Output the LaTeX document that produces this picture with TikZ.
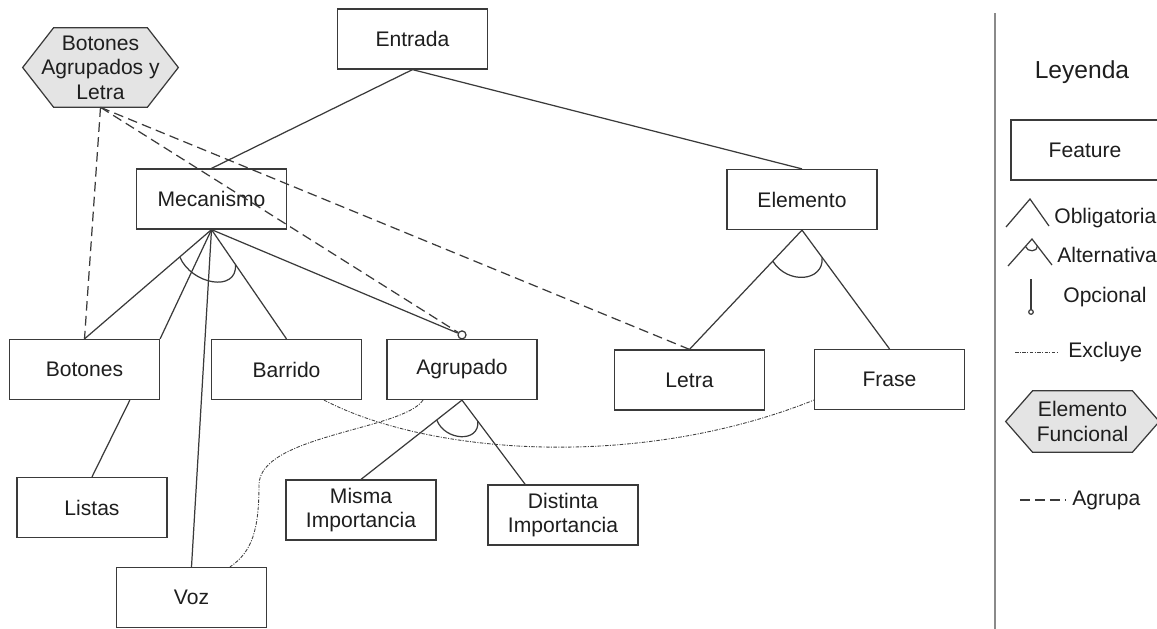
\documentclass[tikz,border=0pt]{standalone}
\usepackage{fontspec}
\setmainfont{Liberation Sans}
\usepackage{tikz}
\usetikzlibrary{shapes,calc,backgrounds}

\definecolor{LineGray}{HTML}{3A3A3A}
\definecolor{TextGray}{HTML}{1E1E1E}
\definecolor{HexFill}{HTML}{E4E4E4}
\definecolor{SepGray}{HTML}{8A8A8A}

\begin{document}
\begin{tikzpicture}[x=0.02cm, y=-0.02cm]
		\tikzstyle{Feature}	= [rectangle, draw=LineGray, line width=0.7pt, fill=white, minimum width=3cm, minimum height=1.2cm, align=center, text=TextGray, font=\fontsize{12}{14}\selectfont]
		\tikzstyle{Funcional}	= [rectangle, inner sep=0pt, align=center, text=TextGray, font=\fontsize{12}{14}\selectfont]
		\tikzstyle{Hexagono}	= [draw=LineGray, line width=0.7pt, fill=HexFill]
		\tikzstyle{Opcional}	= [circle, draw=LineGray, line width=0.7pt, fill=white, minimum size=0.16cm, inner sep=0pt]
		\tikzstyle{Rel}		= [line width=0.7pt, LineGray]
		\tikzstyle{Agrupa}	= [line width=0.7pt, LineGray, dash pattern=on 5.5pt off 3pt]
		\tikzstyle{Excluye}	= [line width=0.5pt, black!75, dash pattern=on 2pt off 0.8pt on 0.6pt off 0.8pt]
		\tikzstyle{Label}	= [anchor=west, inner sep=0pt, text=TextGray, font=\fontsize{12}{14}\selectfont]

		\useasboundingbox (0,0) rectangle (1157,629);

		\node (ent) at (412.5, 39) [Feature] {Entrada};
		\node (hex) at (100.5, 67.5) [Funcional, minimum width=3.1cm, minimum height=1.58cm] {Botones\\Agrupados y\\Letra};
		\node (mec) at (211.5, 199) [Feature] {Mecanismo};
		\node (elem) at (802, 199.5) [Feature] {Elemento};
		\node (bot) at (84.5, 369.5) [Feature] {Botones};
		\node (bar) at (286.5, 369.5) [Feature] {Barrido};
		\node (agr) at (462, 369.5) [Feature] {Agrupado};
		\node (let) at (689.5, 380) [Feature] {Letra};
		\node (fra) at (889.5, 379.5) [Feature] {Frase};
		\node (lis) at (92, 507.5) [Feature] {Listas};
		\node (mis) at (361, 510) [Feature] {Misma\\Importancia};
		\node (dis) at (563, 515) [Feature] {Distinta\\Importancia};
		\node (voz) at (191.5, 597.5) [Feature] {Voz};
		\node (opc) at ($(agr.north)+(0,-4)$) [Opcional] {};
		\coordinate (ex1) at (259, 485);

		\draw [Rel] (ent.south) -- (mec.north);
		\draw [Rel] (ent.south) -- (elem.north);
		\draw [Rel] (mec.south) -- (bot.north);
		\draw [Rel] (mec.south) -- (bot.north east);
		\draw [Rel] (mec.south) -- (voz.north);
		\draw [Rel] (mec.south) -- (bar.north);
		\draw [Rel] (mec.south) -- (opc);
		\draw [Rel] (elem.south) -- (let.north);
		\draw [Rel] (elem.south) -- (fra.north);
		\draw [Rel] ($(bot.south)!0.6!(bot.south east)$) -- (lis.north);
		\draw [Rel] (agr.south) -- (mis.north);
		\draw [Rel] (agr.south) -- ($(dis.north west)!0.25!(dis.north east)$);

		% alternativas
		\draw [Rel] ($(mec.south)!0.25!(bot.north)$) .. controls +(12,28) and +(2,28) .. ($(mec.south)!0.32!(bar.north)$);
		\draw [Rel] ($(elem.south)!0.26!(let.north)$) .. controls +(15,24) and +(2,24) .. ($(elem.south)!0.23!(fra.north)$);
		\draw [Rel] ($(agr.south)!0.25!(mis.north)$) .. controls +(8,21) and +(2,22) .. ($(agr.south)!0.25!($(dis.north west)!0.25!(dis.north east)$)$);

		% agrupa
		\draw [Agrupa] (hex.south) -- (bot.north);
		\draw [Agrupa] (hex.south) -- (opc);
		\draw [Agrupa] (hex.south) -- (let.north);

		% excluye
		\draw [Excluye] ($(bar.south)+(37.5,0)$) .. controls +(106,55) and +(-175,70) .. ($(fra.south west)+(0,-10)$);
		\draw [Excluye] ($(agr.south)+(-39,0)$) .. controls +(-20,30) and +(0,-50) .. (ex1) .. controls +(0,45) and +(22,-15) .. ($(voz.north)+(38.5,0)$);

		% leyenda
		\draw [line width=1.1pt, SepGray] (995, 13) -- (995, 629);
		\node (ley) at (1082, 72) [text=TextGray, font=\fontsize{14}{16}\selectfont] {Leyenda};
		\node (feat) at (1085, 150) [Feature, minimum width=2.96cm] {Feature};
		\draw [Rel] (1006,227) -- (1030,199) -- (1049,226);
		\node (obl) at (1054, 218) [Label] {Obligatoria};
		\draw [Rel] (1008,266) -- (1032,239) -- (1052,265);
		\draw [Rel] (1025.5,246.5) .. controls +(2,6) and +(0,6) .. (1037.5,246);
		\node (alt) at (1057, 255) [Label] {Alternativa};
		\draw [Rel] (1031,279) -- (1031,310);
		\draw [Rel, fill=white] (1031,312) circle [radius=1.3pt];
		\node (opl) at (1063, 297) [Label] {Opcional};
		\draw [Excluye] (1015,352) -- (1058,352);
		\node (exc) at (1068, 352) [Label] {Excluye};
		\node (efu) at (1082.5, 421.5) [Funcional, minimum width=3.06cm, minimum height=1.22cm] {Elemento\\Funcional};
		\draw [Agrupa] (1020,500) -- (1065,500);
		\node (agp) at (1072, 500) [Label] {Agrupa};

		% hexagonos
		\begin{scope}[on background layer]
			\draw [Hexagono] (hex.west) -- ($(hex.north west)+(31,0)$) -- ($(hex.north east)+(-31,0)$) -- (hex.east) -- ($(hex.south east)+(-31,0)$) -- ($(hex.south west)+(31,0)$) -- cycle;
			\draw [Hexagono] (efu.west) -- ($(efu.north west)+(27,0)$) -- ($(efu.north east)+(-27,0)$) -- (efu.east) -- ($(efu.south east)+(-27,0)$) -- ($(efu.south west)+(27,0)$) -- cycle;
		\end{scope}
\end{tikzpicture}
\end{document}
